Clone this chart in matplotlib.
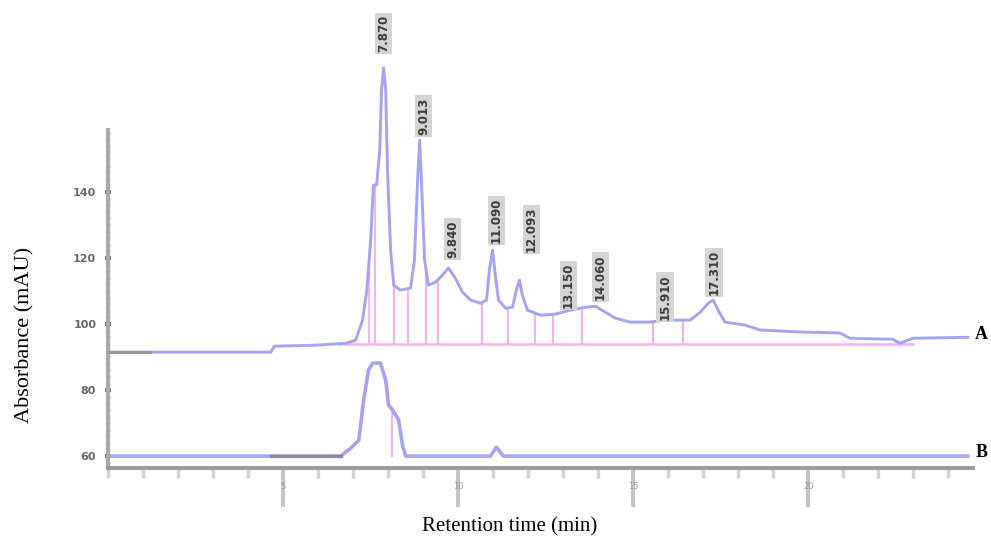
import numpy as np
import matplotlib
matplotlib.use("Agg")
import matplotlib.pyplot as plt
from matplotlib.ticker import MultipleLocator, FixedLocator

# chromatogram A (signal above its own baseline, mAU)
a_time = [0.0, 4.65, 4.75, 5.93, 6.36, 6.79, 7.07, 7.27, 7.39, 7.50, 7.58, 7.67,
          7.76, 7.81, 7.87, 7.93, 7.98, 8.07, 8.16, 8.35, 8.64, 8.75, 8.84, 8.90,
          8.95, 9.04, 9.15, 9.35, 9.55, 9.72, 9.92, 10.12, 10.35, 10.64, 10.81,
          10.89, 10.98, 11.06, 11.15, 11.35, 11.55, 11.66, 11.75, 11.83, 11.98,
          12.35, 12.77, 13.20, 13.63, 13.92, 14.20, 14.49, 14.91, 15.48, 15.91,
          16.62, 16.91, 17.14, 17.28, 17.42, 17.62, 18.19, 18.62, 19.76, 20.90,
          21.19, 22.41, 22.61, 22.98, 24.55]
a_signal = [0.0, 0.0, 1.8, 2.1, 2.4, 2.7, 3.6, 9.7, 18.8, 33.9, 50.6, 50.6,
            61.2, 79.4, 86.1, 79.4, 55.2, 30.9, 20.3, 18.8, 19.4, 27.9, 52.1, 64.2,
            52.1, 27.9, 20.3, 21.2, 23.3, 25.5, 22.4, 18.2, 15.8, 14.8, 15.8,
            24.8, 30.9, 23.3, 15.8, 13.3, 13.6, 18.8, 21.8, 17.3, 12.7,
            11.2, 11.5, 12.7, 13.6, 13.9, 12.1, 10.3, 9.1, 9.1, 9.7,
            9.7, 12.1, 14.8, 15.8, 12.7, 9.1, 8.2, 6.7, 6.1, 5.8,
            4.2, 3.9, 2.7, 4.2, 4.5]

# chromatogram B
b_time = [0.0, 6.64, 6.93, 7.16, 7.30, 7.44, 7.56, 7.78, 7.93, 8.01, 8.13, 8.30,
          8.41, 8.50, 10.92, 11.09, 11.29, 24.55]
b_signal = [0.0, 0.0, 2.4, 4.8, 17.0, 26.1, 28.2, 28.2, 23.0, 15.5, 13.9, 10.9,
            3.3, 0.0, 0.0, 2.7, 0.0, 0.0]

b_base = 60.0
a_base = 91.5

# integration marks of trace A
a_int_level = 2.4
a_int_start, a_int_end = 6.6, 23.0
a_drops = [7.44, 7.62, 8.16, 8.58, 9.07, 9.41, 10.69, 11.43, 12.20, 12.72,
           13.54, 15.57, 16.42]
b_drops = [8.10]

# peak labels (retention times)
peak_time = [7.87, 9.01, 9.84, 11.09, 12.09, 13.15, 14.06, 15.91, 17.31]
peak_text = ["7.870", "9.013", "9.840", "11.090", "12.093", "13.150",
             "14.060", "15.910", "17.310"]
peak_label_y = [182.4, 157.3, 120.0, 124.5, 121.8, 104.8, 107.3, 101.2, 108.8]

y_ticks = [60, 80, 100, 120, 140]
x_ticks = [5, 10, 15, 20]

line_c = "#a4a4f0"
pink = "#f0b4ee"

fig = plt.figure(figsize=(9.91, 5.43), dpi=100)
ax = fig.add_axes([108 / 991, 1 - 468 / 543, 865 / 991, 338 / 543])

a_t = np.array(a_time)
a_y = np.array(a_signal) + a_base
b_t = np.array(b_time)
b_y = np.array(b_signal) + b_base

# drop lines first so the traces sit on top
for t in a_drops:
    top = np.interp(t, a_t, a_y)
    ax.plot([t, t], [a_base + a_int_level, top], color=pink, lw=1.6, zorder=1)
for t in b_drops:
    top = np.interp(t, b_t, b_y)
    ax.plot([t, t], [b_base, top], color=pink, lw=1.6, zorder=1)
ax.plot([a_int_start, a_int_end], [a_base + a_int_level] * 2, color=pink, lw=1.8, zorder=1)

ax.plot(a_t, a_y, color=line_c, lw=2.1, zorder=2, clip_on=False)
ax.plot(b_t, b_y, color=line_c, lw=2.6, zorder=2)
# darker start segments of the baselines
ax.plot([0, 1.2], [a_base, a_base], color="#999999", lw=2.2, zorder=3)
ax.plot([4.65, 6.64], [b_base, b_base], color="#8a8a9a", lw=2.4, zorder=3)

for t, txt, yl in zip(peak_time, peak_text, peak_label_y):
    ax.text(t, yl, txt, rotation=90, ha="center", va="bottom", fontsize=8.5,
            fontweight="bold", color="#3a3a3a", clip_on=False,
            bbox=dict(facecolor="#d4d4d4", edgecolor="none", pad=1.6))

ax.set_xlim(0, 24.7)
ax.set_ylim(56.4, 158.8)

for s in ["top", "right"]:
    ax.spines[s].set_visible(False)
ax.spines["left"].set_color("#aaaaaa")
ax.spines["left"].set_linewidth(2.9)
ax.spines["bottom"].set_color("#9c9c9c")
ax.spines["bottom"].set_linewidth(2.9)

ax.xaxis.set_major_locator(FixedLocator(x_ticks))
ax.xaxis.set_minor_locator(MultipleLocator(1))
ax.set_xticklabels([str(v) for v in x_ticks])
ax.tick_params(axis="x", which="major", length=28, width=2.9, color="#c4c4c4",
               labelsize=6, labelcolor="#999999", pad=-18)
ax.tick_params(axis="x", which="minor", length=7, width=2.5, color="#d2d2d2")

ax.yaxis.set_major_locator(FixedLocator(y_ticks))
ax.yaxis.set_minor_locator(MultipleLocator(2))
ax.set_yticklabels([str(v) for v in y_ticks])
ax.tick_params(axis="y", which="major", direction="inout", length=5, width=2.9,
               color="#777777", labelsize=8, labelcolor="#666666", pad=6)
ax.tick_params(axis="y", which="minor", direction="inout", length=3, width=1.8,
               color="#bbbbbb")
for lab in ax.get_yticklabels():
    lab.set_fontweight("bold")

ax.text(24.95, 96.7, "A", fontsize=13, fontweight="bold", family="Liberation Serif",
        ha="center", va="center", clip_on=False)
ax.text(24.95, 61.2, "B", fontsize=13, fontweight="bold", family="Liberation Serif",
        ha="center", va="center", clip_on=False)

fig.text(25 / 991, 1 - 335 / 543, "Absorbance (mAU)", rotation=90, fontsize=16,
         family="Liberation Serif", ha="center", va="center")
fig.text(510 / 991, 1 - 527 / 543, "Retention time (min)", fontsize=15,
         family="Liberation Serif", ha="center", va="center")

fig.savefig("out.png", dpi=100)
